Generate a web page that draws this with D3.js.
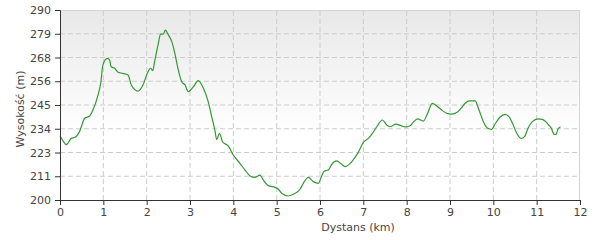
<!DOCTYPE html>
<html><head><meta charset="utf-8">
<script src="https://cdn.jsdelivr.net/npm/d3@7"></script>
<style>
body{margin:0;background:#fff;}
svg{display:block;font-family:"DejaVu Sans",Verdana,sans-serif;}
</style></head>
<body><svg id="c" width="600" height="240"></svg>
<script>
const distances = [0.00,0.07,0.145,0.26,0.35,0.45,0.57,0.685,0.76,0.877,0.94,0.99,1.09,1.146,1.18,1.26,1.34,1.45,1.57,1.645,1.8,1.915,2.015,2.09,2.14,2.19,2.27,2.32,2.385,2.43,2.5,2.58,2.65,2.73,2.81,2.885,2.96,3.08,3.19,3.31,3.42,3.5,3.58,3.615,3.68,3.75,3.885,4.0,4.15,4.27,4.385,4.5,4.615,4.69,4.81,4.96,5.04,5.115,5.27,5.385,5.54,5.615,5.73,5.845,5.96,6.04,6.1,6.19,6.27,6.385,6.5,6.59,6.73,6.87,7.0,7.115,7.21,7.31,7.44,7.54,7.615,7.75,7.87,7.96,8.08,8.15,8.255,8.385,8.485,8.59,8.69,8.81,8.925,9.04,9.155,9.255,9.35,9.44,9.58,9.67,9.77,9.87,9.96,10.04,10.15,10.27,10.36,10.46,10.54,10.64,10.72,10.8,10.9,11.03,11.13,11.21,11.28,11.34,11.4,11.45,11.49,11.55];
const elevations = [230.3,228.0,226.2,229.2,229.7,232.4,238.7,239.8,242.6,249.7,255.3,263.9,267.1,266.3,263.1,262.4,260.5,260.0,259.2,254.5,251.6,254.5,260.0,262.4,261.3,266.3,274.2,278.6,278.6,280.5,278.2,275.0,269.5,261.6,256.0,254.5,251.3,253.7,256.5,252.9,246.6,239.5,232.4,228.6,231.6,227.6,225.5,221.3,217.4,214.2,211.4,210.7,211.8,209.5,206.8,206.0,205.1,203.2,201.9,202.7,205.1,207.9,210.7,208.7,207.9,211.4,213.7,214.2,216.9,218.5,216.9,215.8,218.1,222.1,227.3,229.2,231.6,234.7,237.9,235.5,234.7,235.9,235.2,234.6,235.2,236.8,238.4,237.4,241.1,245.8,244.7,242.6,241.1,240.7,241.4,243.4,245.8,247.0,247.0,242.6,237.1,234.0,233.5,236.0,239.2,240.6,239.5,235.5,231.6,229.2,230.0,234.0,237.1,238.4,238.2,237.1,235.5,234.0,231.1,231.1,233.5,234.7];
const xTicks = [0,1,2,3,4,5,6,7,8,9,10,11,12];
const yTicks = [200,211.25,222.5,233.75,245,256.25,267.5,278.75,290];
const yTickLabels = ["200","211","223","234","245","256","268","279","290"];
const xTitle = "Dystans (km)";
const yTitle = "Wysokość (m)";

const svg = d3.select("#c");
const m = {l:60, t:10, r:20, b:40};
const W = 600, H = 240;
const x = d3.scaleLinear().domain([0,12]).range([m.l, W-m.r]);
const y = d3.scaleLinear().domain([200,290]).range([H-m.b, m.t]);

const defs = svg.append("defs");
const g = defs.append("linearGradient").attr("id","bg").attr("x1",0).attr("y1",0).attr("x2",0).attr("y2",1);
g.append("stop").attr("offset","0%").attr("stop-color","#e8e8e8");
g.append("stop").attr("offset","65%").attr("stop-color","#ffffff");
g.append("stop").attr("offset","100%").attr("stop-color","#ffffff");

svg.append("rect").attr("x",x(0)).attr("y",y(290)).attr("width",x(12)-x(0)).attr("height",y(200)-y(290)).attr("fill","url(#bg)");

// grid
svg.append("g").selectAll("line").data(yTicks.slice(1,-1)).join("line")
  .attr("x1",x(0)).attr("x2",x(12)).attr("y1",d=>y(d)).attr("y2",d=>y(d))
  .attr("stroke","#cccccc").attr("stroke-dasharray","5,3");
svg.append("g").selectAll("line").data(xTicks.slice(1,-1)).join("line")
  .attr("x1",d=>x(d)).attr("x2",d=>x(d)).attr("y1",y(200)).attr("y2",y(290))
  .attr("stroke","#cccccc").attr("stroke-dasharray","5,3");
// top & right border
svg.append("path").attr("d",`M${x(0)},${y(290)+0.5}H${x(12)-0.5}V${y(200)}`)
  .attr("fill","none").attr("stroke","#d4d4d4");

// line
const pts = distances.map((d,i)=>[d,elevations[i]]);
svg.append("path").datum(pts)
  .attr("d", d3.line().x(d=>x(d[0])).y(d=>y(d[1])).curve(d3.curveMonotoneX))
  .attr("fill","none").attr("stroke","#339933").attr("stroke-width",1.2);

// axes
const xa = svg.append("g").attr("transform",`translate(0,${y(200)})`)
  .call(d3.axisBottom(x).tickValues(xTicks).tickFormat(d3.format("d")).tickSize(5).tickPadding(3));
const ya = svg.append("g").attr("transform",`translate(${x(0)},0)`)
  .call(d3.axisLeft(y).tickValues(yTicks).tickFormat((d,i)=>yTickLabels[i]).tickSize(5).tickPadding(4));
[xa,ya].forEach(a=>{
  a.select(".domain").attr("stroke","#333");
  a.selectAll(".tick line").attr("stroke","#333");
  a.selectAll("text").attr("fill","#444").style("font-size","11px").style("font-family","DejaVu Sans");
});

svg.append("text").attr("x",358).attr("y",231).attr("text-anchor","middle")
  .attr("fill","#444").style("font-size","11px").text(xTitle);
svg.append("text").attr("transform","translate(24,109) rotate(-90)").attr("text-anchor","middle")
  .attr("fill","#444").style("font-size","11px").text(yTitle);
</script></body></html>
